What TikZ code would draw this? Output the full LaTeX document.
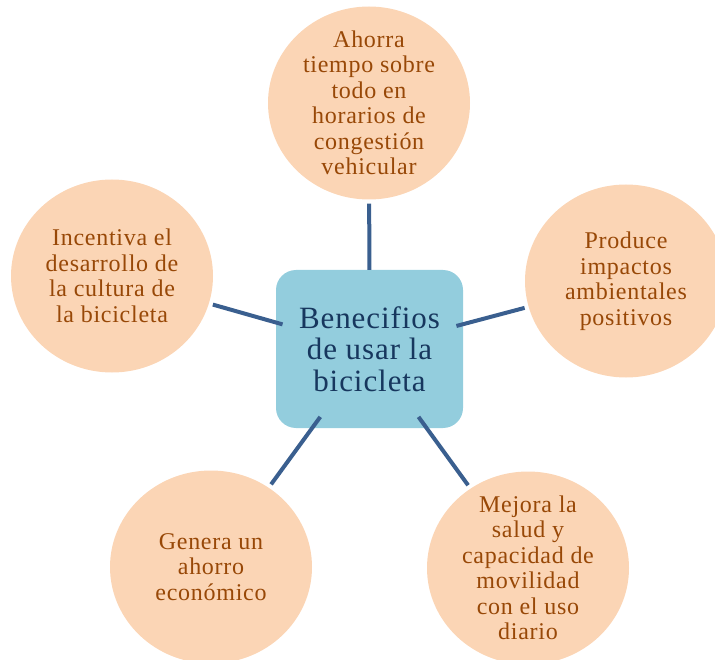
\documentclass[tikz,border=0pt]{standalone}
\usepackage{fontspec}
\setmainfont{Liberation Serif}
\usetikzlibrary{shapes.geometric}
\definecolor{peach}{HTML}{FBD5B5}
\definecolor{txtbrown}{HTML}{984807}
\definecolor{boxblue}{HTML}{93CDDD}
\definecolor{navytxt}{HTML}{17375E}
\definecolor{linkblue}{HTML}{3A5F8F}
\newfontfamily\spacedserif[LetterSpace=3]{Liberation Serif}
\begin{document}
\begin{tikzpicture}[x=1pt,y=-1pt,
  bubble/.style={ellipse, fill=peach, minimum width=202pt, minimum height=193pt, inner sep=0pt},
  bubbletext/.style={align=center, text=txtbrown, inner sep=0pt, font=\spacedserif\fontsize{24}{25.5}\selectfont},
  hubbox/.style={rectangle, rounded corners=20pt, fill=boxblue, minimum width=187pt, minimum height=158pt, inner sep=0pt, align=center, text=navytxt, font=\spacedserif\fontsize{31}{31.7}\selectfont},
  link/.style={draw=linkblue, line width=4pt}]
\useasboundingbox (0,0) rectangle (715,660);
\node[hubbox] (hub) at (369.5,349) {Benecifios\\de usar la\\bicicleta};
\node[bubble] (top) at (369,103) {};
\node[bubble] (right) at (626,281) {};
\node[bubble] (left) at (112,276) {};
\node[bubble] (bl) at (211,567) {};
\node[bubble] (br) at (528,568) {};
\node[bubbletext] (topt) at (top) {Ahorra\\tiempo sobre\\todo en\\horarios de\\congestión\\vehicular};
\node[bubbletext] (rightt) at (right) {Produce\\impactos\\ambientales\\positivos};
\node[bubbletext] (leftt) at (left) {Incentiva el\\desarrollo de\\la cultura de\\la bicicleta};
\node[bubbletext] (blt) at (bl) {Genera un\\ahorro\\económico};
\node[bubbletext] (brt) at (br) {Mejora la\\salud y\\capacidad de\\movilidad\\con el uso\\diario};
\draw[link, shorten <=0pt, shorten >=4pt] (hub) -- (top);
\draw[link, shorten <=-7pt, shorten >=4pt] (hub) -- (right);
\draw[link, shorten <=-7pt, shorten >=4pt] (hub) -- (left);
\draw[link, shorten <=-14pt, shorten >=4pt] (hub) -- (bl);
\draw[link, shorten <=-14pt, shorten >=4pt] (hub) -- (br);
\end{tikzpicture}
\end{document}
